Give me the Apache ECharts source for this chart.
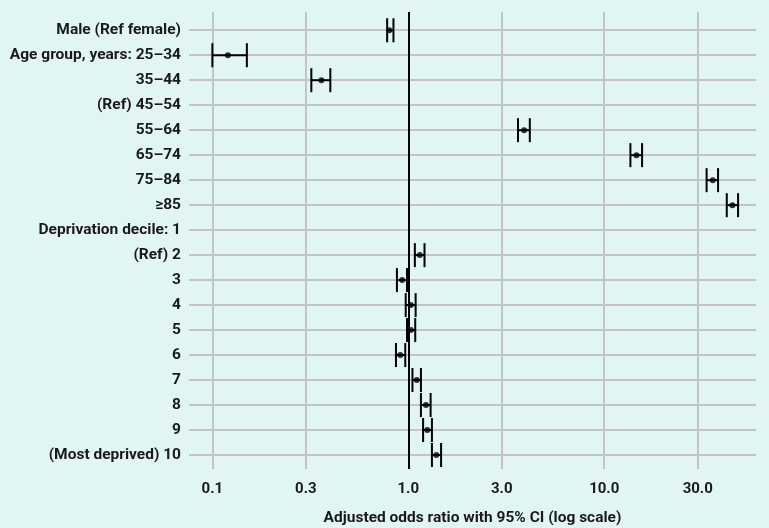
<!DOCTYPE html>
<html>
<head>
<meta charset="utf-8">
<title>Adjusted odds ratios</title>
<script src="https://cdn.jsdelivr.net/npm/echarts@6/dist/echarts.min.js"></script>
<style>
  html, body { margin: 0; padding: 0; background: #e1f5f3; }
  #chart { width: 769px; height: 528px; }
</style>
</head>
<body>
<div id="chart"></div>
<script>
// rows from top to bottom; null = reference category (no estimate drawn)
const categories = [
  'Male (Ref female)',
  'Age group, years: 25\u201334',
  '35\u201344',
  '(Ref) 45\u201354',
  '55\u201364',
  '65\u201374',
  '75\u201384',
  '\u226585',
  'Deprivation decile: 1',
  '(Ref) 2',
  '3',
  '4',
  '5',
  '6',
  '7',
  '8',
  '9',
  '(Most deprived) 10'
]
const oddsRatios = [0.80, 0.12, 0.36, null, 3.90, 14.6, 35.8, 45.1, null, 1.145, 0.93, 1.03, 1.03, 0.91, 1.105, 1.23, 1.25, 1.39]
const ciLow = [0.78, 0.10, 0.32, null, 3.63, 13.6, 33.3, 42.2, null, 1.08, 0.875, 0.97, 0.985, 0.865, 1.05, 1.16, 1.19, 1.32]
const ciHigh = [0.84, 0.15, 0.40, null, 4.17, 15.6, 38.1, 48.2, null, 1.21, 0.985, 1.09, 1.085, 0.965, 1.16, 1.30, 1.32, 1.47]
const xTicks = [0.1, 0.3, 1, 3, 10, 30]

const pointData = []
const barData = []
oddsRatios.forEach(function (v, i) {
  if (v === null) return
  pointData.push([v, i])
  barData.push([ciLow[i], ciHigh[i], i])
})

const labelFont = { fontFamily: 'Roboto', fontWeight: 'bold', fontSize: 15, color: '#1a1a1a' }

const chart = echarts.init(document.getElementById('chart'))
const option = {
  backgroundColor: '#e1f5f3',
  animation: false,
  grid: { left: 189, right: 13, top: 12, bottom: 59, outerBoundsMode: 'none' },
  xAxis: {
    type: 'log',
    min: 0.076,
    max: 59.5,
    name: 'Adjusted odds ratio with 95% CI (log scale)',
    nameLocation: 'middle',
    nameGap: 41,
    nameTextStyle: Object.assign({}, labelFont, { fontSize: 15.5 }),
    axisLine: { show: false },
    axisTick: { show: false, customValues: xTicks },
    axisLabel: Object.assign({}, labelFont, {
      customValues: xTicks,
      margin: 13,
      formatter: function (v) { return v.toFixed(1) }
    }),
    splitLine: { show: true, lineStyle: { color: '#c4c4c4', width: 2 } }
  },
  yAxis: {
    type: 'value',
    inverse: true,
    min: -0.73,
    max: 17.56,
    axisLine: { show: false },
    axisTick: { show: false, customValues: categories.map(function (c, i) { return i }) },
    axisLabel: Object.assign({}, labelFont, {
      fontSize: 15.5,
      customValues: categories.map(function (c, i) { return i }),
      margin: 8,
      formatter: function (v) { return categories[Math.round(v)] }
    }),
    splitLine: { show: true, lineStyle: { color: '#c4c4c4', width: 2 } }
  },
  series: [
    {
      type: 'custom',
      data: barData,
      encode: { x: [0, 1], y: 2 },
      renderItem: function (params, api) {
        const row = api.value(2)
        const a = api.coord([api.value(0), row])
        const b = api.coord([api.value(1), row])
        const h = 12
        const style = { stroke: '#000', lineWidth: 2 }
        return {
          type: 'group',
          children: [
            { type: 'line', shape: { x1: a[0], y1: a[1], x2: b[0], y2: b[1] }, style: style },
            { type: 'line', shape: { x1: a[0], y1: a[1] - h, x2: a[0], y2: a[1] + h }, style: style },
            { type: 'line', shape: { x1: b[0], y1: b[1] - h, x2: b[0], y2: b[1] + h }, style: style }
          ]
        }
      },
      z: 3
    },
    {
      type: 'scatter',
      data: pointData,
      symbol: 'circle',
      symbolSize: 6,
      itemStyle: { color: '#000' },
      z: 4,
      markLine: {
        silent: true,
        symbol: 'none',
        label: { show: false },
        lineStyle: { color: '#000', width: 2, type: 'solid' },
        data: [{ xAxis: 1 }]
      }
    }
  ]
}
chart.setOption(option)
</script>
</body>
</html>
